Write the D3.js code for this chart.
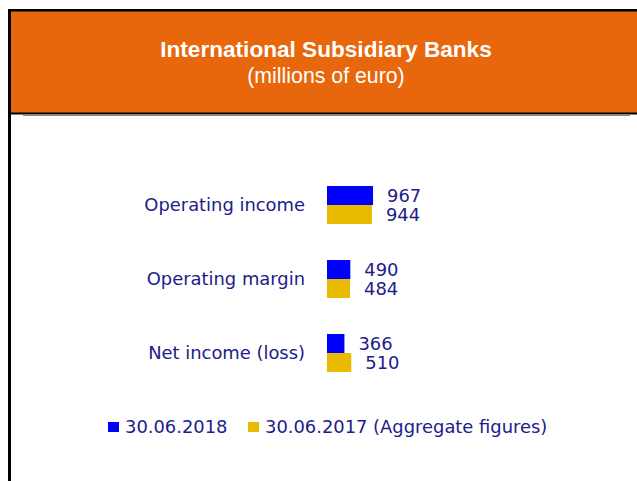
<!DOCTYPE html>
<html>
<head>
<meta charset="utf-8">
<script src="https://cdn.jsdelivr.net/npm/d3@7"></script>
<style>
  body { margin: 0; background: #fff; }
</style>
</head>
<body>
<div id="chart"></div>
<script>
// Width and height
var chart_width  = 637;
var chart_height = 481;

// data
var categories = ["Operating income", "Operating margin", "Net income (loss)"];
var series     = ["30.06.2018", "30.06.2017 (Aggregate figures)"];
var values2018 = [967, 490, 366];
var values2017 = [944, 484, 510];
var colors     = ["#0000ff", "#e9bb00"];

var title    = "International Subsidiary Banks";
var subtitle = "(millions of euro)";

var textColor = "#20208a";
var labelFont = "'DejaVu Sans', Verdana, sans-serif";

var svg = d3.select("#chart")
  .append("svg")
  .attr("width", chart_width)
  .attr("height", chart_height);

// header box
svg.append("rect")
  .attr("x", 11).attr("y", 11)
  .attr("width", chart_width - 11).attr("height", 102)
  .attr("fill", "#e9670c");

svg.append("rect").attr("x", 8).attr("y", 9).attr("width", chart_width - 8).attr("height", 2.5).attr("fill", "#000");
svg.append("rect").attr("x", 8).attr("y", 9).attr("width", 3).attr("height", chart_height - 9).attr("fill", "#000");
svg.append("rect").attr("x", 8).attr("y", 112.5).attr("width", chart_width - 8).attr("height", 2).attr("fill", "#000");
svg.append("rect").attr("x", 23).attr("y", 114.5).attr("width", 607).attr("height", 1.5).attr("fill", "#8a8a8a");

svg.append("text")
  .attr("x", 326).attr("y", 57)
  .attr("text-anchor", "middle")
  .style("font-family", "'Liberation Sans', Arial, sans-serif")
  .style("font-weight", "bold")
  .style("font-size", "22.6px")
  .attr("fill", "#fff")
  .text(title);

svg.append("text")
  .attr("x", 326).attr("y", 83)
  .attr("text-anchor", "middle")
  .style("font-family", "'Liberation Sans', Arial, sans-serif")
  .style("font-size", "21.3px")
  .attr("fill", "#fff")
  .text(subtitle);

// scales
var y = d3.scaleBand()
  .domain(categories)
  .range([168, 390]);

var ySub = d3.scaleBand()
  .domain(series)
  .range([18, 56]);

var x = d3.scaleLinear()
  .domain([0, 1000])
  .range([327, 327 + 47.6]);

var rows = categories.map(function(c, i){
  return { cat: c, vals: [values2018[i], values2017[i]] };
});

var groups = svg.selectAll("g.row")
  .data(rows)
  .enter()
  .append("g")
  .attr("class", "row")
  .attr("transform", function(d){ return "translate(0," + y(d.cat) + ")"; });

groups.append("text")
  .attr("x", 305)
  .attr("y", y.bandwidth() / 2)
  .attr("dy", "0.35em")
  .attr("text-anchor", "end")
  .style("font-family", labelFont)
  .style("font-size", "17.9px")
  .attr("fill", textColor)
  .text(function(d){ return d.cat; });

groups.selectAll("rect")
  .data(function(d){ return d.vals.map(function(v, j){ return { s: series[j], v: v, j: j }; }); })
  .enter()
  .append("rect")
  .attr("x", x(0))
  .attr("y", function(d){ return ySub(d.s); })
  .attr("width", function(d){ return x(d.v) - x(0); })
  .attr("height", ySub.bandwidth())
  .attr("fill", function(d){ return colors[d.j]; });

groups.selectAll("text.val")
  .data(function(d){ return d.vals.map(function(v, j){ return { s: series[j], v: v, j: j }; }); })
  .enter()
  .append("text")
  .attr("class", "val")
  .attr("x", function(d){ return x(d.v) + 14; })
  .attr("y", function(d){ return ySub(d.s) + ySub.bandwidth() / 2; })
  .attr("dy", "0.35em")
  .style("font-family", labelFont)
  .style("font-size", "17.9px")
  .attr("fill", textColor)
  .text(function(d){ return d.v; });

// legend
var legendX = [108, 248];
var legend = svg.selectAll("g.legend")
  .data(series)
  .enter()
  .append("g")
  .attr("class", "legend")
  .attr("transform", function(d, i){ return "translate(" + legendX[i] + ",427)"; });

legend.append("rect")
  .attr("x", 0).attr("y", -5)
  .attr("width", 11).attr("height", 10)
  .attr("fill", function(d, i){ return colors[i]; });

legend.append("text")
  .attr("x", 17).attr("y", 0)
  .attr("dy", "0.35em")
  .style("font-family", labelFont)
  .style("font-size", "17.9px")
  .attr("fill", textColor)
  .text(function(d){ return d; });
</script>
</body>
</html>
